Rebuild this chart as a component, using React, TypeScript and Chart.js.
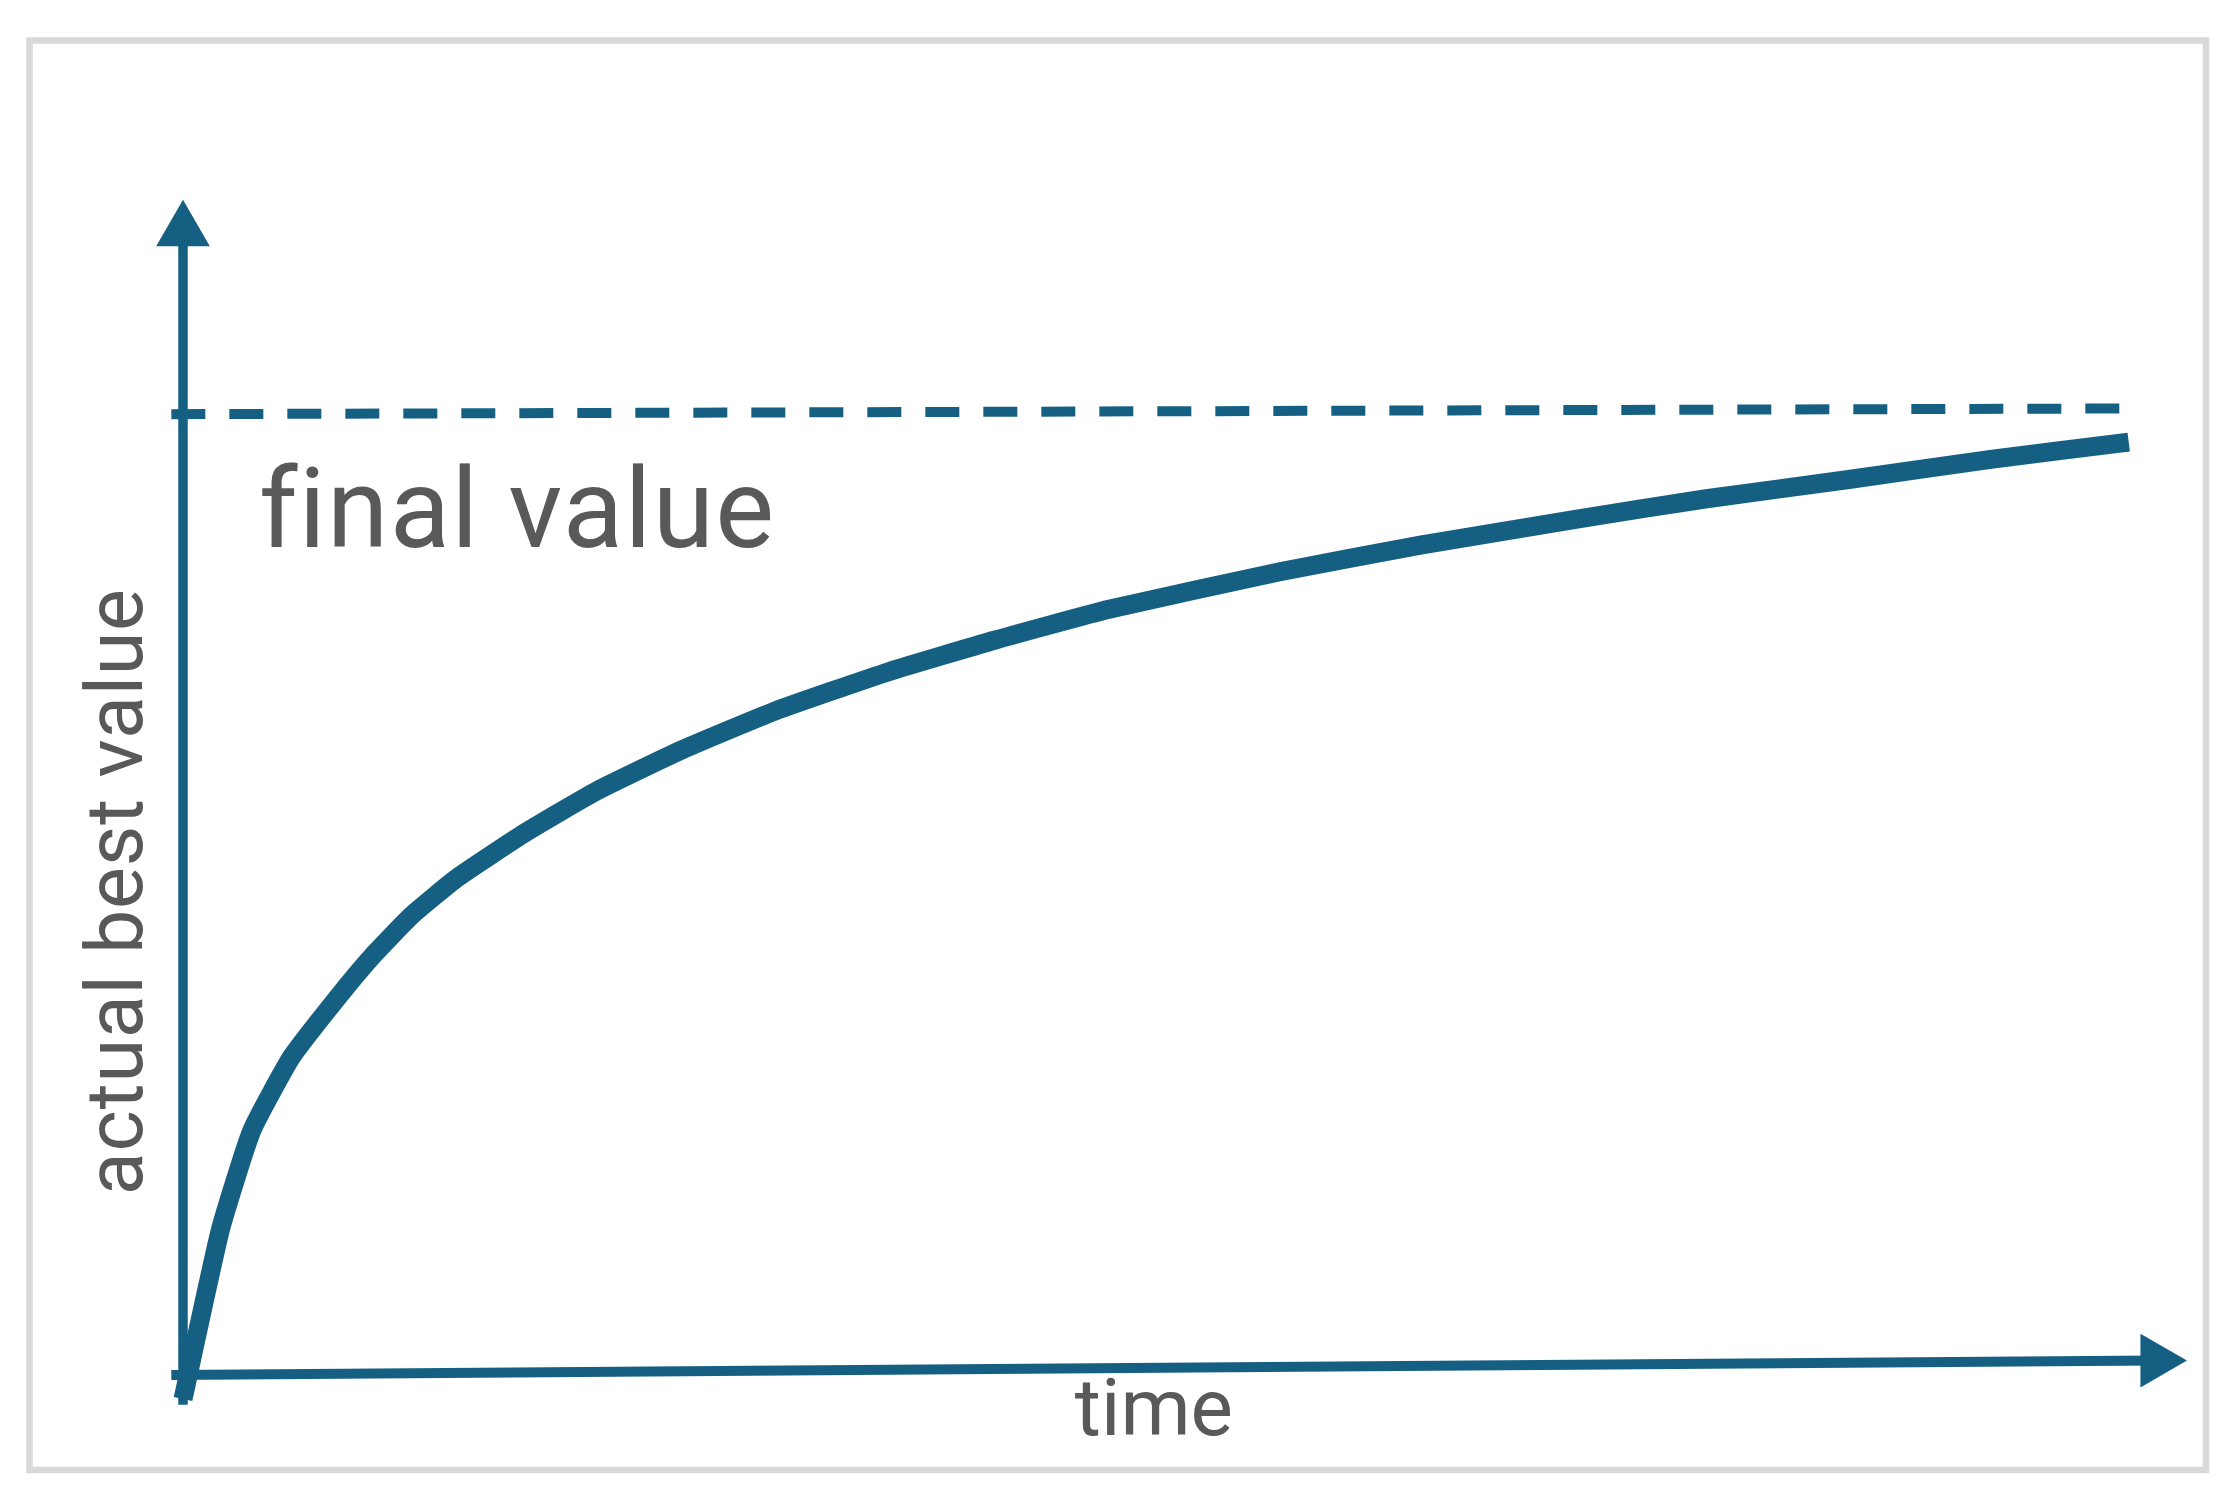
import React, { useEffect, useRef } from "react";
import { Chart, registerables } from "chart.js";

Chart.register(...registerables);

// ---- data (time units 0..100, value units 0..100 where 100 = final value) ----
const curveTime = [0, 1.92, 3.53, 5.58, 7.91, 9.82, 11.79, 14.13, 17.63, 21.27, 25.68, 30.42, 36.27, 41.75, 47.59, 56.37, 63.67, 71.72, 78.3, 85.61, 92.91, 100];
const curveValue = [-2.5, 15.1, 25.4, 33.1, 39.2, 43.8, 47.9, 51.8, 56.5, 60.8, 65.1, 69.1, 73.2, 76.5, 79.7, 83.6, 86.4, 89.1, 91.2, 93.2, 95.3, 97.1];

const finalLineTime = [-0.6, 100.1];
const finalLineValue = [100, 100.6];

const timeAxisTime = [-0.6, 101.4];
const timeAxisValue = [0, 1.5];

const valueAxisTime = [0, 0];
const valueAxisValue = [-3.1, 119.1];

const xTitle = "time";
const yTitle = "actual best value";
const finalLabel = "final value";

const BLUE = "#156082";
const TEXT = "#595959";
const FRAME = "#d9d9d9";

const toPoints = (xs: number[], ys: number[]) => xs.map((x, i) => ({ x, y: ys[i] }));

const decorPlugin = {
  id: "decor",
  beforeDraw(chart: any) {
    const ctx = chart.ctx;
    ctx.save();
    ctx.fillStyle = "#ffffff";
    ctx.fillRect(0, 0, chart.width, chart.height);
    ctx.strokeStyle = FRAME;
    ctx.lineWidth = 6.5;
    ctx.strokeRect(29.5, 40.5, 2176.5, 1429.5);
    ctx.restore();
  },
  afterDatasetsDraw(chart: any) {
    const ctx = chart.ctx;
    const xs = chart.scales.x;
    const ys = chart.scales.y;
    ctx.save();
    ctx.fillStyle = TEXT;
    ctx.textBaseline = "alphabetic";

    // final value label
    ctx.font = "111px Roboto";
    (ctx as any).letterSpacing = "1.3px";
    ctx.textAlign = "left";
    ctx.fillText(finalLabel, xs.getPixelForValue(3.9), ys.getPixelForValue(86.2));

    // x title
    ctx.font = "80px Roboto";
    (ctx as any).letterSpacing = "0px";
    ctx.textAlign = "center";
    ctx.fillText(xTitle, xs.getPixelForValue(49.9), ys.getPixelForValue(-6.2));

    // y title (rotated)
    ctx.translate(xs.getPixelForValue(-2.1), ys.getPixelForValue(50.3));
    ctx.rotate(-Math.PI / 2);
    ctx.font = "79px Roboto";
    (ctx as any).letterSpacing = "0.8px";
    ctx.textAlign = "center";
    ctx.fillText(yTitle, 0, 0);
    ctx.restore();
  },
};

export default function App() {
  const ref = useRef<HTMLCanvasElement | null>(null);

  useEffect(() => {
    if (!ref.current) return;
    const chart = new Chart(ref.current, {
      type: "line",
      data: {
        datasets: [
          {
            label: "actual best value",
            data: toPoints(curveTime, curveValue),
            borderColor: BLUE,
            borderWidth: 19,
            pointRadius: 0,
            tension: 0.15,
            borderJoinStyle: "round",
            borderCapStyle: "butt",
            clip: false,
          } as any,
          {
            label: "final value",
            data: toPoints(finalLineTime, finalLineValue),
            borderColor: BLUE,
            borderWidth: 10,
            borderDash: [34, 24],
            borderCapStyle: "butt",
            pointRadius: 0,
            clip: false,
          } as any,
          {
            label: "time axis",
            data: toPoints(timeAxisTime, timeAxisValue),
            borderColor: BLUE,
            borderWidth: 10,
            borderCapStyle: "butt",
            pointRadius: [0, 31],
            pointStyle: "triangle",
            pointRotation: 90,
            pointBackgroundColor: BLUE,
            pointBorderWidth: 0,
            clip: false,
          } as any,
          {
            label: "value axis",
            data: toPoints(valueAxisTime, valueAxisValue),
            borderColor: BLUE,
            borderWidth: 9.5,
            borderCapStyle: "butt",
            pointRadius: [0, 31],
            pointStyle: "triangle",
            pointRotation: 0,
            pointBackgroundColor: BLUE,
            pointBorderWidth: 0,
            clip: false,
          } as any,
        ],
      },
      options: {
        responsive: false,
        animation: false,
        devicePixelRatio: 1,
        layout: { autoPadding: false, padding: { left: 183, right: 4, top: 174, bottom: 117 } },
        plugins: {
          legend: { display: false },
          tooltip: { enabled: false },
          title: { display: false },
        },
        events: [],
        scales: {
          x: { type: "linear", min: 0, max: 105, display: false },
          y: { type: "linear", min: 0, max: 125, display: false },
        },
      },
      plugins: [decorPlugin],
    });
    return () => chart.destroy();
  }, []);

  return (
    <div style={{ position: "absolute", left: 0, top: 0, width: 2230, height: 1492 }}>
      <canvas ref={ref} width={2230} height={1492} style={{ display: "block", width: 2230, height: 1492 }} />
    </div>
  );
}
